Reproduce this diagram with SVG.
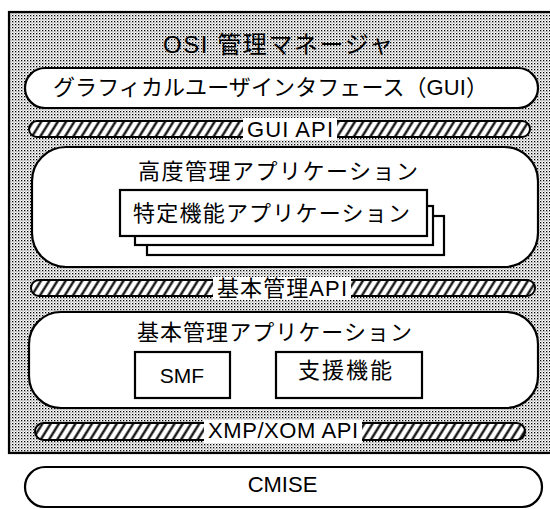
<svg xmlns="http://www.w3.org/2000/svg" width="550" height="509" viewBox="0 0 550 509">
<defs>
<pattern id="stipple" width="3" height="3" patternUnits="userSpaceOnUse">
<rect width="3" height="3" fill="#ffffff"/>
<rect x="0" y="0" width="1.3" height="1.3" fill="#000"/>
<rect x="1.5" y="1.5" width="1" height="1" fill="#555"/>
</pattern>
<pattern id="hatch" width="7" height="7" patternUnits="userSpaceOnUse" patternTransform="rotate(32)">
<rect width="7" height="7" fill="#fff"/>
<line x1="1.5" y1="0" x2="1.5" y2="7" stroke="#000" stroke-width="2.2"/>
</pattern>
</defs>
<style>
.box{fill:#fff;stroke:#000;stroke-width:2.2}
.bar{fill:url(#hatch);stroke:#000;stroke-width:2}
.lbl{fill:#fff}
text{font-family:"Liberation Sans","Noto Sans CJK JP",sans-serif;fill:#000;text-anchor:middle}
.t22{font-size:22px}
</style>
<g id="frame">
<rect x="9" y="12" width="560" height="441" fill="url(#stipple)" stroke="#000" stroke-width="2.2"/>
<text x="278" y="53" font-size="24" textLength="230" lengthAdjust="spacing">OSI 管理マネージャ</text>
</g>
<g id="gui">
<rect class="box" x="25" y="68" width="513" height="40" rx="20"/>
<text class="t22" x="270.5" y="95" textLength="435" lengthAdjust="spacing">グラフィカルユーザインタフェース（GUI）</text>
</g>
<g id="gui-api">
<rect class="bar" x="29" y="121" width="501" height="16" rx="8"/>
<rect class="lbl" x="243" y="118" width="94" height="22"/>
<text class="t22" x="290" y="137" textLength="86" lengthAdjust="spacing">GUI API</text>
</g>
<g id="advanced">
<rect class="box" x="32" y="147" width="506" height="120" rx="34"/>
<text class="t22" x="278" y="179" textLength="280" lengthAdjust="spacing">高度管理アプリケーション</text>
</g>
<g id="specific">
<rect class="box" x="147" y="216" width="297" height="39"/>
<rect class="box" x="135" y="206" width="298" height="39"/>
<rect class="box" x="120" y="190" width="307" height="46"/>
<text class="t22" x="271.5" y="221" textLength="277" lengthAdjust="spacing">特定機能アプリケーション</text>
</g>
<g id="basic-api">
<rect class="bar" x="31" y="280" width="504" height="16" rx="8"/>
<rect class="lbl" x="213" y="277" width="138" height="23"/>
<text class="t22" x="282" y="296" textLength="130" lengthAdjust="spacing">基本管理API</text>
</g>
<g id="basic">
<rect class="box" x="29" y="312" width="509" height="96" rx="32"/>
<text class="t22" x="274.5" y="340" textLength="275" lengthAdjust="spacing">基本管理アプリケーション</text>
</g>
<g id="smf">
<rect class="box" x="135" y="352" width="95" height="46"/>
<text x="182" y="383" font-size="21">SMF</text>
</g>
<g id="support">
<rect class="box" x="276" y="352" width="146" height="46"/>
<text class="t22" x="345" y="378" textLength="94" lengthAdjust="spacing">支援機能</text>
</g>
<g id="xmp-api">
<rect class="bar" x="35" y="423" width="490" height="17" rx="8.5"/>
<rect class="lbl" x="204" y="420" width="158" height="23"/>
<text class="t22" x="283" y="438" textLength="150" lengthAdjust="spacing">XMP/XOM API</text>
</g>
<g id="cmise">
<rect class="box" x="25" y="467" width="517" height="40" rx="20"/>
<text class="t22" x="282.5" y="492">CMISE</text>
</g>
<g id="connectors"></g>
</svg>
